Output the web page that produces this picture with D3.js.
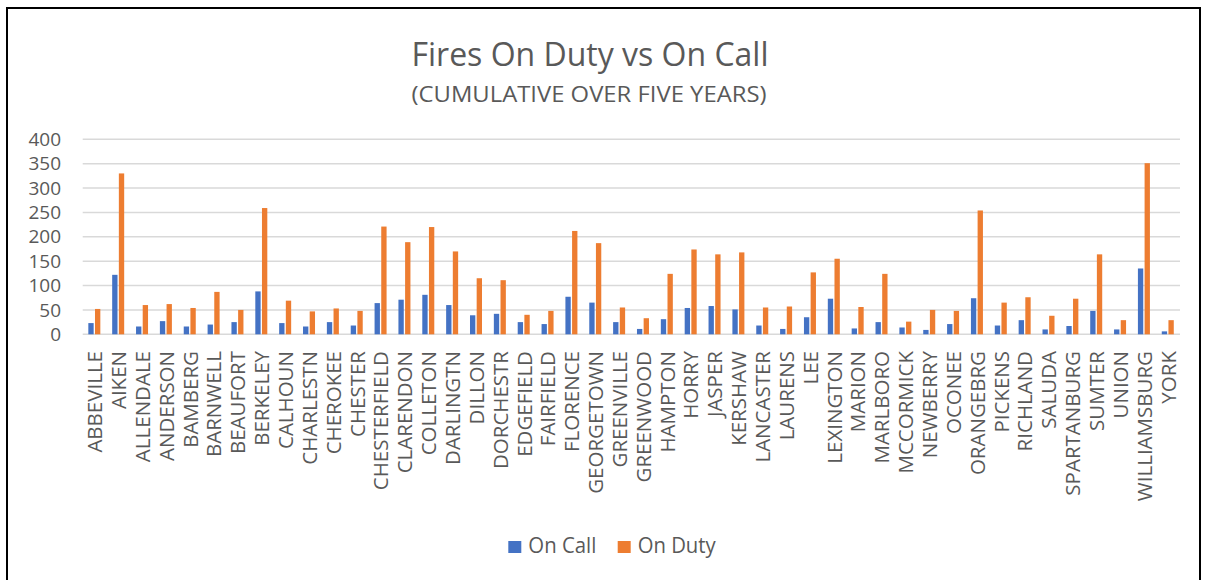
<!DOCTYPE html>
<html>
<head>
<meta charset="utf-8">
<script src="https://cdn.jsdelivr.net/npm/d3@7"></script>
<style>
  html, body { margin: 0; padding: 0; background: #fff; }
  svg { display: block; }
  text { font-family: "Open Sans", "Noto Sans", sans-serif; fill: #595959; }
</style>
</head>
<body>
<svg id="chart" width="1206" height="580"></svg>
<script>
const categories = ["ABBEVILLE","AIKEN","ALLENDALE","ANDERSON","BAMBERG","BARNWELL","BEAUFORT","BERKELEY","CALHOUN","CHARLESTN",
  "CHEROKEE","CHESTER","CHESTERFIELD","CLARENDON","COLLETON","DARLINGTN","DILLON","DORCHESTR","EDGEFIELD","FAIRFIELD",
  "FLORENCE","GEORGETOWN","GREENVILLE","GREENWOOD","HAMPTON","HORRY","JASPER","KERSHAW","LANCASTER","LAURENS",
  "LEE","LEXINGTON","MARION","MARLBORO","MCCORMICK","NEWBERRY","OCONEE","ORANGEBRG","PICKENS","RICHLAND",
  "SALUDA","SPARTANBURG","SUMTER","UNION","WILLIAMSBURG","YORK"];
const onCall = [23,122,16,27,16,20,25,88,23,16, 25,18,64,71,81,60,39,42,25,21, 77,65,25,11,31,54,58,51,18,11, 35,73,12,25,14,9,21,74,18,29, 10,17,48,10,135,6];
const onDuty = [52,330,60,62,54,87,50,259,69,47, 53,48,221,189,220,170,115,111,40,48, 212,187,55,33,124,174,164,168,55,57, 127,155,56,124,26,50,48,254,65,76, 38,73,164,29,351,29];
const seriesNames = ["On Call","On Duty"];
const seriesColors = ["#4472C4","#ED7D31"];
const yTicks = [0,50,100,150,200,250,300,350,400];
const titleText = "Fires On Duty vs On Call";
const subtitleText = "(CUMULATIVE OVER FIVE YEARS)";

const svg = d3.select("#chart");

// frame
svg.append("rect").attr("x", 7).attr("y", 8).attr("width", 1193).attr("height", 600)
  .attr("fill", "none").attr("stroke", "#000").attr("stroke-width", 2);

const x = d3.scaleBand().domain(categories).range([82.7, 1180]).padding(0);
const y = d3.scaleLinear().domain([0, 400]).range([334.3, 139.3]);
const inner = d3.scaleBand().domain([0, 1]).range([-6.3, 5.7]).paddingInner(0.2);

// gridlines
svg.append("g").selectAll("line").data(yTicks).join("line")
  .attr("x1", 82.7).attr("x2", 1180)
  .attr("y1", d => y(d)).attr("y2", d => y(d))
  .attr("stroke", "#D9D9D9").attr("stroke-width", 1.5);

// y axis labels
const yAxis = d3.axisLeft(y).tickValues(yTicks).tickSize(0).tickPadding(0);
const yg = svg.append("g").attr("transform", "translate(61,0)").call(yAxis);
yg.select(".domain").remove();
yg.selectAll("text").attr("font-size", 19).attr("fill", "#595959")
  .style("font-family", '"Open Sans", sans-serif');

// bars
const series = [onCall, onDuty];
series.forEach((vals, si) => {
  svg.append("g").selectAll("rect").data(vals).join("rect")
    .attr("x", (d, i) => x(categories[i]) + x.bandwidth() / 2 + inner(si))
    .attr("width", inner.bandwidth())
    .attr("y", d => y(d))
    .attr("height", d => y(0) - y(d))
    .attr("fill", seriesColors[si]);
});

// x axis labels (rotated)
const xAxis = d3.axisBottom(x).tickSize(0).tickPadding(0);
const xg = svg.append("g").attr("transform", "translate(0,351)").call(xAxis);
xg.select(".domain").remove();
xg.selectAll("text")
  .attr("font-size", 20.5)
  .attr("fill", "#595959")
  .style("font-family", '"Open Sans", sans-serif')
  .attr("text-anchor", "end")
  .attr("dy", null)
  .attr("y", 0)
  .attr("x", 0)
  .attr("transform", "rotate(-90) translate(0,7.5)");

// titles
svg.append("text").attr("x", 590).attr("y", 66).attr("text-anchor", "middle")
  .attr("font-size", 33).attr("textLength", 357).attr("lengthAdjust", "spacingAndGlyphs")
  .text(titleText);
svg.append("text").attr("x", 589).attr("y", 102).attr("text-anchor", "middle")
  .attr("font-size", 22).attr("textLength", 355).attr("lengthAdjust", "spacingAndGlyphs")
  .text(subtitleText);

// legend
const legendX = [508.3, 617.7];
const legendTextW = [68, 78];
seriesNames.forEach((n, i) => {
  svg.append("rect").attr("x", legendX[i]).attr("y", 541).attr("width", 13).attr("height", 12)
    .attr("fill", seriesColors[i]);
  svg.append("text").attr("x", legendX[i] + 20).attr("y", 553.3).attr("font-size", 21)
    .attr("textLength", legendTextW[i]).attr("lengthAdjust", "spacingAndGlyphs")
    .text(n);
});
</script>
</body>
</html>
